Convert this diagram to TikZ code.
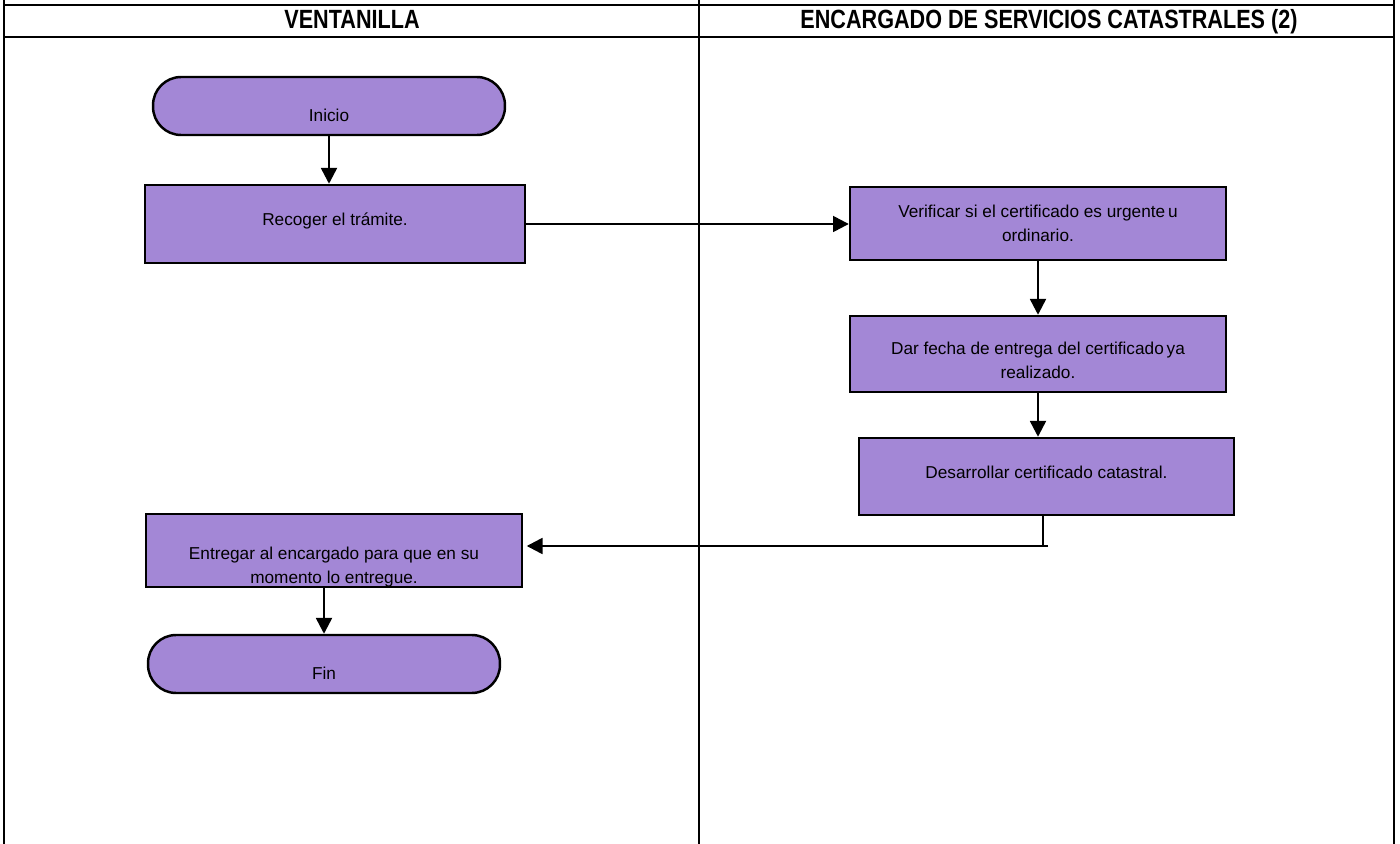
\documentclass[tikz,border=0pt]{standalone}
\usepackage{fontspec}
\setmainfont{Liberation Sans}
\newfontfamily\headfont{Liberation Sans}[FakeStretch=0.82]
\usepackage{tikz}
\usetikzlibrary{arrows.meta,calc,positioning}
\definecolor{lilac}{RGB}{163,135,214}

\begin{document}
\begin{tikzpicture}[x=0.02cm, y=-0.02cm,
    every node/.style={font=\fontsize{9.8pt}{13.6pt}\selectfont},
    tarea/.style={draw, line width=1.4pt, fill=lilac, align=center, inner sep=0pt,
      minimum width=7.52cm, minimum height=1.5cm},
    terminal/.style={draw, line width=1.4pt, fill=lilac, rounded corners=16pt,
      minimum width=7.04cm, minimum height=1.16cm, text height=18pt, text depth=0pt},
    subida/.style={text height=8pt, text depth=6pt},
    encabezado/.style={anchor=base, font=\headfont\bfseries\fontsize{15pt}{18pt}\selectfont},
    flujo/.style={line width=1.4pt, -{Triangle[length=9pt,width=9pt]}}]
      \useasboundingbox (0,0) rectangle (1400,844);
      \def\izq{4}
      \def\med{699}
      \def\der{1394}
      %Draw table
      \draw[line width=1.3pt] (\izq,0) -- (\izq,844);
      \draw[line width=1.3pt] (\med,0) -- (\med,844);
      \draw[line width=1.3pt] (\der,0) -- (\der,844);
      \draw[line width=1.3pt] (\izq,5) -- (\der,5);
      \draw[line width=1.3pt] (\izq,37) -- (\der,37);
      \node[encabezado] (ventanilla) at (352,29) {VENTANILLA};
      \node[encabezado] (encargado) at (1049,29) {ENCARGADO DE SERVICIOS CATASTRALES (2)};
      %Draw steps
      \node[terminal] (inicio) at (329,106) {Inicio};
      \node[tarea, subida, minimum width=7.6cm, minimum height=1.56cm] (recoger) at (335,224) {Recoger el trámite.};
      \node[tarea, minimum height=1.46cm] (verificar) at (1038,223.5) {Verificar si el certificado es urgente\,u\\ordinario.};
      \node[tarea, minimum height=1.52cm, text height=27.4pt, text depth=0pt] (dar) at (1038,354) {Dar fecha de entrega del certificado\,ya\\realizado.};
      \node[tarea, subida, minimum width=7.5cm, minimum height=1.54cm] (desarrollar) at (1046.5,476.5) {Desarrollar certificado catastral.};
      \node[tarea, minimum height=1.46cm, text height=37pt, text depth=0pt] (entregar) at (334,550.5) {Entregar al encargado para que en su\\momento lo entregue.};
      \node[terminal] (fin) at (324,664) {Fin};
      %Draw arrows
      \draw[flujo] (inicio.south) -- (inicio.south |- recoger.north);
      \draw[flujo] (recoger.east) -- (recoger.east -| verificar.west);
      \draw[flujo] (verificar.south) -- (verificar.south |- dar.north);
      \draw[flujo] (dar.south) -- (dar.south |- desarrollar.north);
      \coordinate (giro) at (1043,546);
      \draw[line width=0.6pt] (desarrollar.south -| giro) -- (giro);
      \draw[flujo, shorten >=2pt] ($(giro)+(5,0)$) -- (giro -| entregar.east);
      \draw[flujo] (fin.north |- entregar.south) -- (fin.north);
    \end{tikzpicture}
\end{document}
